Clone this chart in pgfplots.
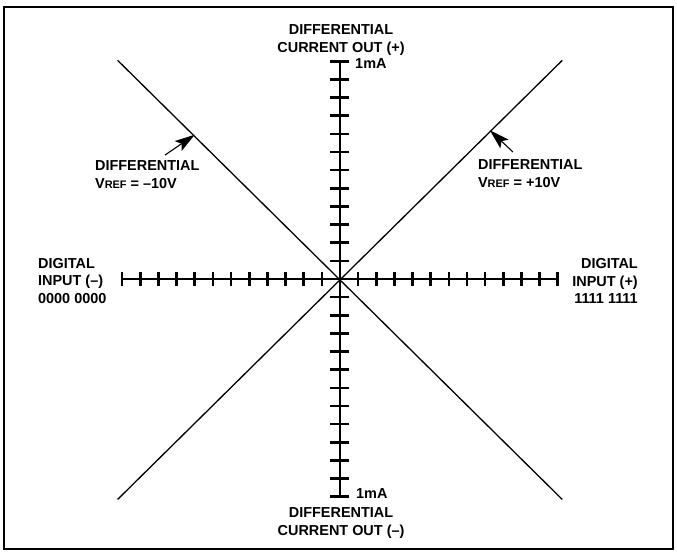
\documentclass[border=0pt]{standalone}
\usepackage{pgfplots}
\pgfplotsset{compat=1.18}
\usetikzlibrary{arrows.meta}
\usepackage{fontspec}
\setmainfont{Liberation Sans}
\newcommand{\lblfont}{\bfseries\fontsize{14.5}{17.5}\selectfont}
\newcommand{\smfont}{\fontsize{11}{13}\selectfont}
\tikzset{lbl/.style={font=\lblfont, inner sep=0pt}}
\begin{document}
\begin{tikzpicture}
\begin{axis}[
  scale only axis, width=669bp, height=542bp,
  xmin=-18.51, xmax=18.35, ymin=-14.88, ymax=14.99,
  axis line style={line width=1.6bp},
  xtick=\empty, ytick=\empty,
  clip=false,
]
% diagonal lines
\addplot[black, line width=1.3bp] coordinates {(-12.25,12.05) (12.25,-12.15)};
\addplot[black, line width=1.3bp] coordinates {(-12.25,-12.15) (12.25,12.05)};
% horizontal axis
\addplot[black, line width=2bp] coordinates {(-12,0) (12,0)};
\addplot[only marks, mark=|, mark size=7bp, mark options={line width=2.6bp}] coordinates {
(-12,0) (-11,0) (-10,0) (-9,0) (-8,0) (-7,0) (-6,0) (-5,0) (-4,0) (-3,0) (-2,0) (-1,0)
(1,0) (2,0) (3,0) (4,0) (5,0) (6,0) (7,0) (8,0) (9,0) (10,0) (11,0) (12,0)};
% vertical axis
\addplot[black, line width=2bp] coordinates {(0,-12) (0,12)};
\addplot[only marks, mark=-, mark size=9.5bp, mark options={line width=2.6bp}] coordinates {
(0,-12) (0,-11) (0,-10) (0,-9) (0,-8) (0,-7) (0,-6) (0,-5) (0,-4) (0,-3) (0,-2) (0,-1)
(0,1) (0,2) (0,3) (0,4) (0,5) (0,6) (0,7) (0,8) (0,9) (0,10) (0,11) (0,12)};
% labels
\node[lbl, align=center] at (0.06,13.17) {DIFFERENTIAL\\CURRENT OUT (+)};
\node[lbl, align=center] at (0.06,-13.44) {DIFFERENTIAL\\CURRENT OUT (--)};
\node[lbl, align=left, anchor=west] at (-16.64,-0.11) {DIGITAL\\INPUT (--)\\0000 0000};
\node[lbl, align=right, anchor=east] at (16.42,-0.11) {DIGITAL\\INPUT (+)\\1111 1111};
\node[lbl, anchor=west] at (0.83,11.9) {1mA};
\node[lbl, anchor=west] at (0.88,-11.85) {1mA};
\node[lbl, align=left, anchor=west] at (-13.5,5.76) {DIFFERENTIAL\\V{\smfont REF} = --10V};
\node[lbl, align=left, anchor=west] at (7.6,5.81) {DIFFERENTIAL\\V{\smfont REF} = +10V};
% arrows
\draw[line width=1.1bp, -{Stealth[length=20bp, width=12bp, inset=4bp]}] (-9.64,6.83) -- (-8.0,7.95);
\draw[line width=1.1bp, -{Stealth[length=20bp, width=12bp, inset=4bp]}] (9.53,7.0) -- (8.26,8.2);
\end{axis}
\path (current axis.south west) ++(-4bp,-5bp) coordinate (bl);
\path (current axis.north east) ++(4bp,7bp) coordinate (tr);
\useasboundingbox (bl) rectangle (tr);
\end{tikzpicture}
\end{document}
